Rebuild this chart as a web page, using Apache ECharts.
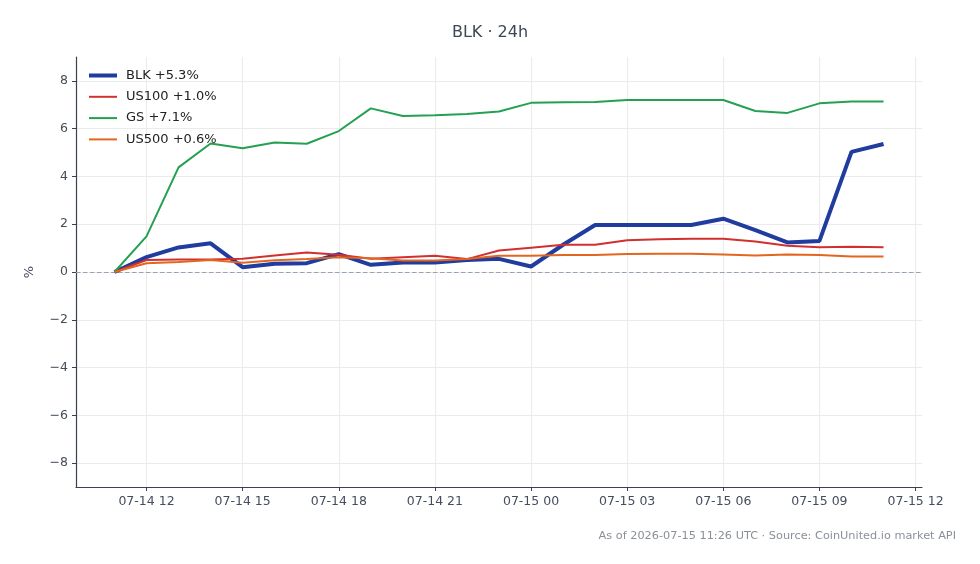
<!DOCTYPE html>
<html>
<head>
<meta charset="utf-8">
<title>BLK 24h</title>
<script src="https://cdn.jsdelivr.net/npm/echarts@6/dist/echarts.min.js"></script>
<style>
  html, body { margin: 0; padding: 0; background: #fff; }
  #chart { width: 980px; height: 564px; }
</style>
</head>
<body>
<div id="chart"></div>
<script>
// hourly points, UTC
var times = [
    '2026-07-14T11:00Z', '2026-07-14T12:00Z', '2026-07-14T13:00Z', '2026-07-14T14:00Z',
    '2026-07-14T15:00Z', '2026-07-14T16:00Z', '2026-07-14T17:00Z', '2026-07-14T18:00Z',
    '2026-07-14T19:00Z', '2026-07-14T20:00Z', '2026-07-14T21:00Z', '2026-07-14T22:00Z',
    '2026-07-14T23:00Z', '2026-07-15T00:00Z', '2026-07-15T01:00Z', '2026-07-15T02:00Z',
    '2026-07-15T03:00Z', '2026-07-15T04:00Z', '2026-07-15T05:00Z', '2026-07-15T06:00Z',
    '2026-07-15T07:00Z', '2026-07-15T08:00Z', '2026-07-15T09:00Z', '2026-07-15T10:00Z',
    '2026-07-15T11:00Z'
];
var blk = [0, 0.62, 1.03, 1.2, 0.2, 0.35, 0.37, 0.75, 0.3, 0.4, 0.4, 0.5, 0.55, 0.23,
    1.14, 1.97, 1.97, 1.97, 1.97, 2.23, 1.75, 1.24, 1.3, 5.03, 5.36];
var us100 = [0, 0.5, 0.52, 0.52, 0.55, 0.69, 0.82, 0.72, 0.55, 0.62, 0.68, 0.54, 0.9,
    1.02, 1.14, 1.14, 1.33, 1.37, 1.39, 1.39, 1.28, 1.1, 1.04, 1.06, 1.04];
var gs = [0, 1.49, 4.38, 5.38, 5.18, 5.42, 5.37, 5.9, 6.85, 6.53, 6.56, 6.61, 6.72, 7.08,
    7.11, 7.12, 7.2, 7.2, 7.2, 7.2, 6.74, 6.66, 7.06, 7.14, 7.14];
var us500 = [0, 0.37, 0.42, 0.5, 0.39, 0.49, 0.54, 0.62, 0.58, 0.48, 0.48, 0.54, 0.68,
    0.68, 0.71, 0.71, 0.75, 0.76, 0.76, 0.73, 0.69, 0.73, 0.71, 0.65, 0.65];
var seriesNames = ['BLK +5.3%', 'US100 +1.0%', 'GS +7.1%', 'US500 +0.6%'];
var xTicks = [
    '2026-07-14T12:00Z', '2026-07-14T15:00Z', '2026-07-14T18:00Z', '2026-07-14T21:00Z',
    '2026-07-15T00:00Z', '2026-07-15T03:00Z', '2026-07-15T06:00Z', '2026-07-15T09:00Z',
    '2026-07-15T12:00Z'
];
var yTicks = [-8, -6, -4, -2, 0, 2, 4, 6, 8];

var pad = function (n) { return n < 10 ? '0' + n : '' + n; };
var toPairs = function (vals) {
    return vals.map(function (v, i) { return [Date.parse(times[i]), v]; });
};

var lineChart = function () {
    var box = echarts.init(document.getElementById('chart'));
    var t0 = Date.parse(times[0]);
    var t1 = Date.parse(times[times.length - 1]);
    var span = t1 - t0;
    var tickVals = xTicks.map(function (s) { return Date.parse(s); });
    var font = 'DejaVu Sans';
    var mk = function (name, data, color, width, z) {
        return {
            name: name,
            type: 'line',
            data: toPairs(data),
            symbol: 'none',
            z: z,
            lineStyle: { color: color, width: width },
            itemStyle: { color: color },
            emphasis: { disabled: true }
        };
    };
    var series = [
        mk(seriesNames[0], blk, '#1f3c9e', 4, 2),
        mk(seriesNames[1], us100, '#d23030', 2, 3),
        mk(seriesNames[2], gs, '#24a052', 2, 4),
        mk(seriesNames[3], us500, '#e2661e', 2, 5)
    ];
    // dashed zero line
    series[0].markLine = {
        silent: true,
        symbol: 'none',
        z: 1,
        label: { show: false },
        lineStyle: { color: '#97a3b4', type: [4.5, 2.5], width: 1 },
        data: [{ yAxis: 0 }]
    };
    var option = {
        animation: false,
        textStyle: { fontFamily: font },
        title: [{
            text: 'BLK · 24h',
            left: 'center',
            top: 20,
            textStyle: { fontFamily: font, fontSize: 16, fontWeight: 'normal', color: '#3f4757' }
        }, {
            text: 'As of 2026-07-15 11:26 UTC · Source: CoinUnited.io market API',
            right: 19,
            top: 526,
            textStyle: { fontFamily: font, fontSize: 11.3, fontWeight: 'normal', color: '#8a9099' }
        }],
        legend: {
            orient: 'vertical',
            left: 87,
            top: 69,
            padding: 0,
            itemWidth: 28,
            itemHeight: 14,
            itemGap: 8.3,
            data: seriesNames,
            itemStyle: { color: 'rgba(0,0,0,0)', borderWidth: 0, opacity: 0 },
            lineStyle: { width: 'inherit' },
            textStyle: { fontFamily: font, fontSize: 13, color: '#222', padding: [0, 0, 0, 4] }
        },
        grid: { left: 76, right: 58, top: 57, bottom: 77 },
        xAxis: {
            type: 'value',
            min: t0 - span * 0.05,
            max: t1 + span * 0.05,
            axisLine: { onZero: false, lineStyle: { color: '#3a4250', width: 1.2 } },
            axisTick: { show: true, length: 4, customValues: tickVals, lineStyle: { color: '#3a4250' } },
            splitLine: { show: true, lineStyle: { color: '#ebebeb', width: 1 } },
            axisLabel: {
                customValues: tickVals,
                color: '#454d5c',
                fontSize: 12.5,
                margin: 8,
                formatter: function (v) {
                    var d = new Date(v);
                    return pad(d.getUTCMonth() + 1) + '-' + pad(d.getUTCDate()) + ' ' + pad(d.getUTCHours());
                }
            }
        },
        yAxis: {
            type: 'value',
            min: -9,
            max: 9,
            name: '%',
            nameLocation: 'middle',
            nameGap: 40,
            nameTextStyle: { fontFamily: font, fontSize: 13, color: '#454d5c' },
            axisLine: { show: true, onZero: false, lineStyle: { color: '#3a4250', width: 1.2 } },
            axisTick: { show: true, length: 4, customValues: yTicks, lineStyle: { color: '#3a4250' } },
            splitLine: { show: true, lineStyle: { color: '#ebebeb', width: 1 } },
            axisLabel: {
                customValues: yTicks,
                color: '#454d5c',
                fontSize: 12.5,
                margin: 8,
                formatter: function (v) { return v < 0 ? '\u2212' + (-v) : '' + v; }
            }
        },
        series: series
    };
    box.setOption(option);
};

lineChart();
</script>
</body>
</html>
